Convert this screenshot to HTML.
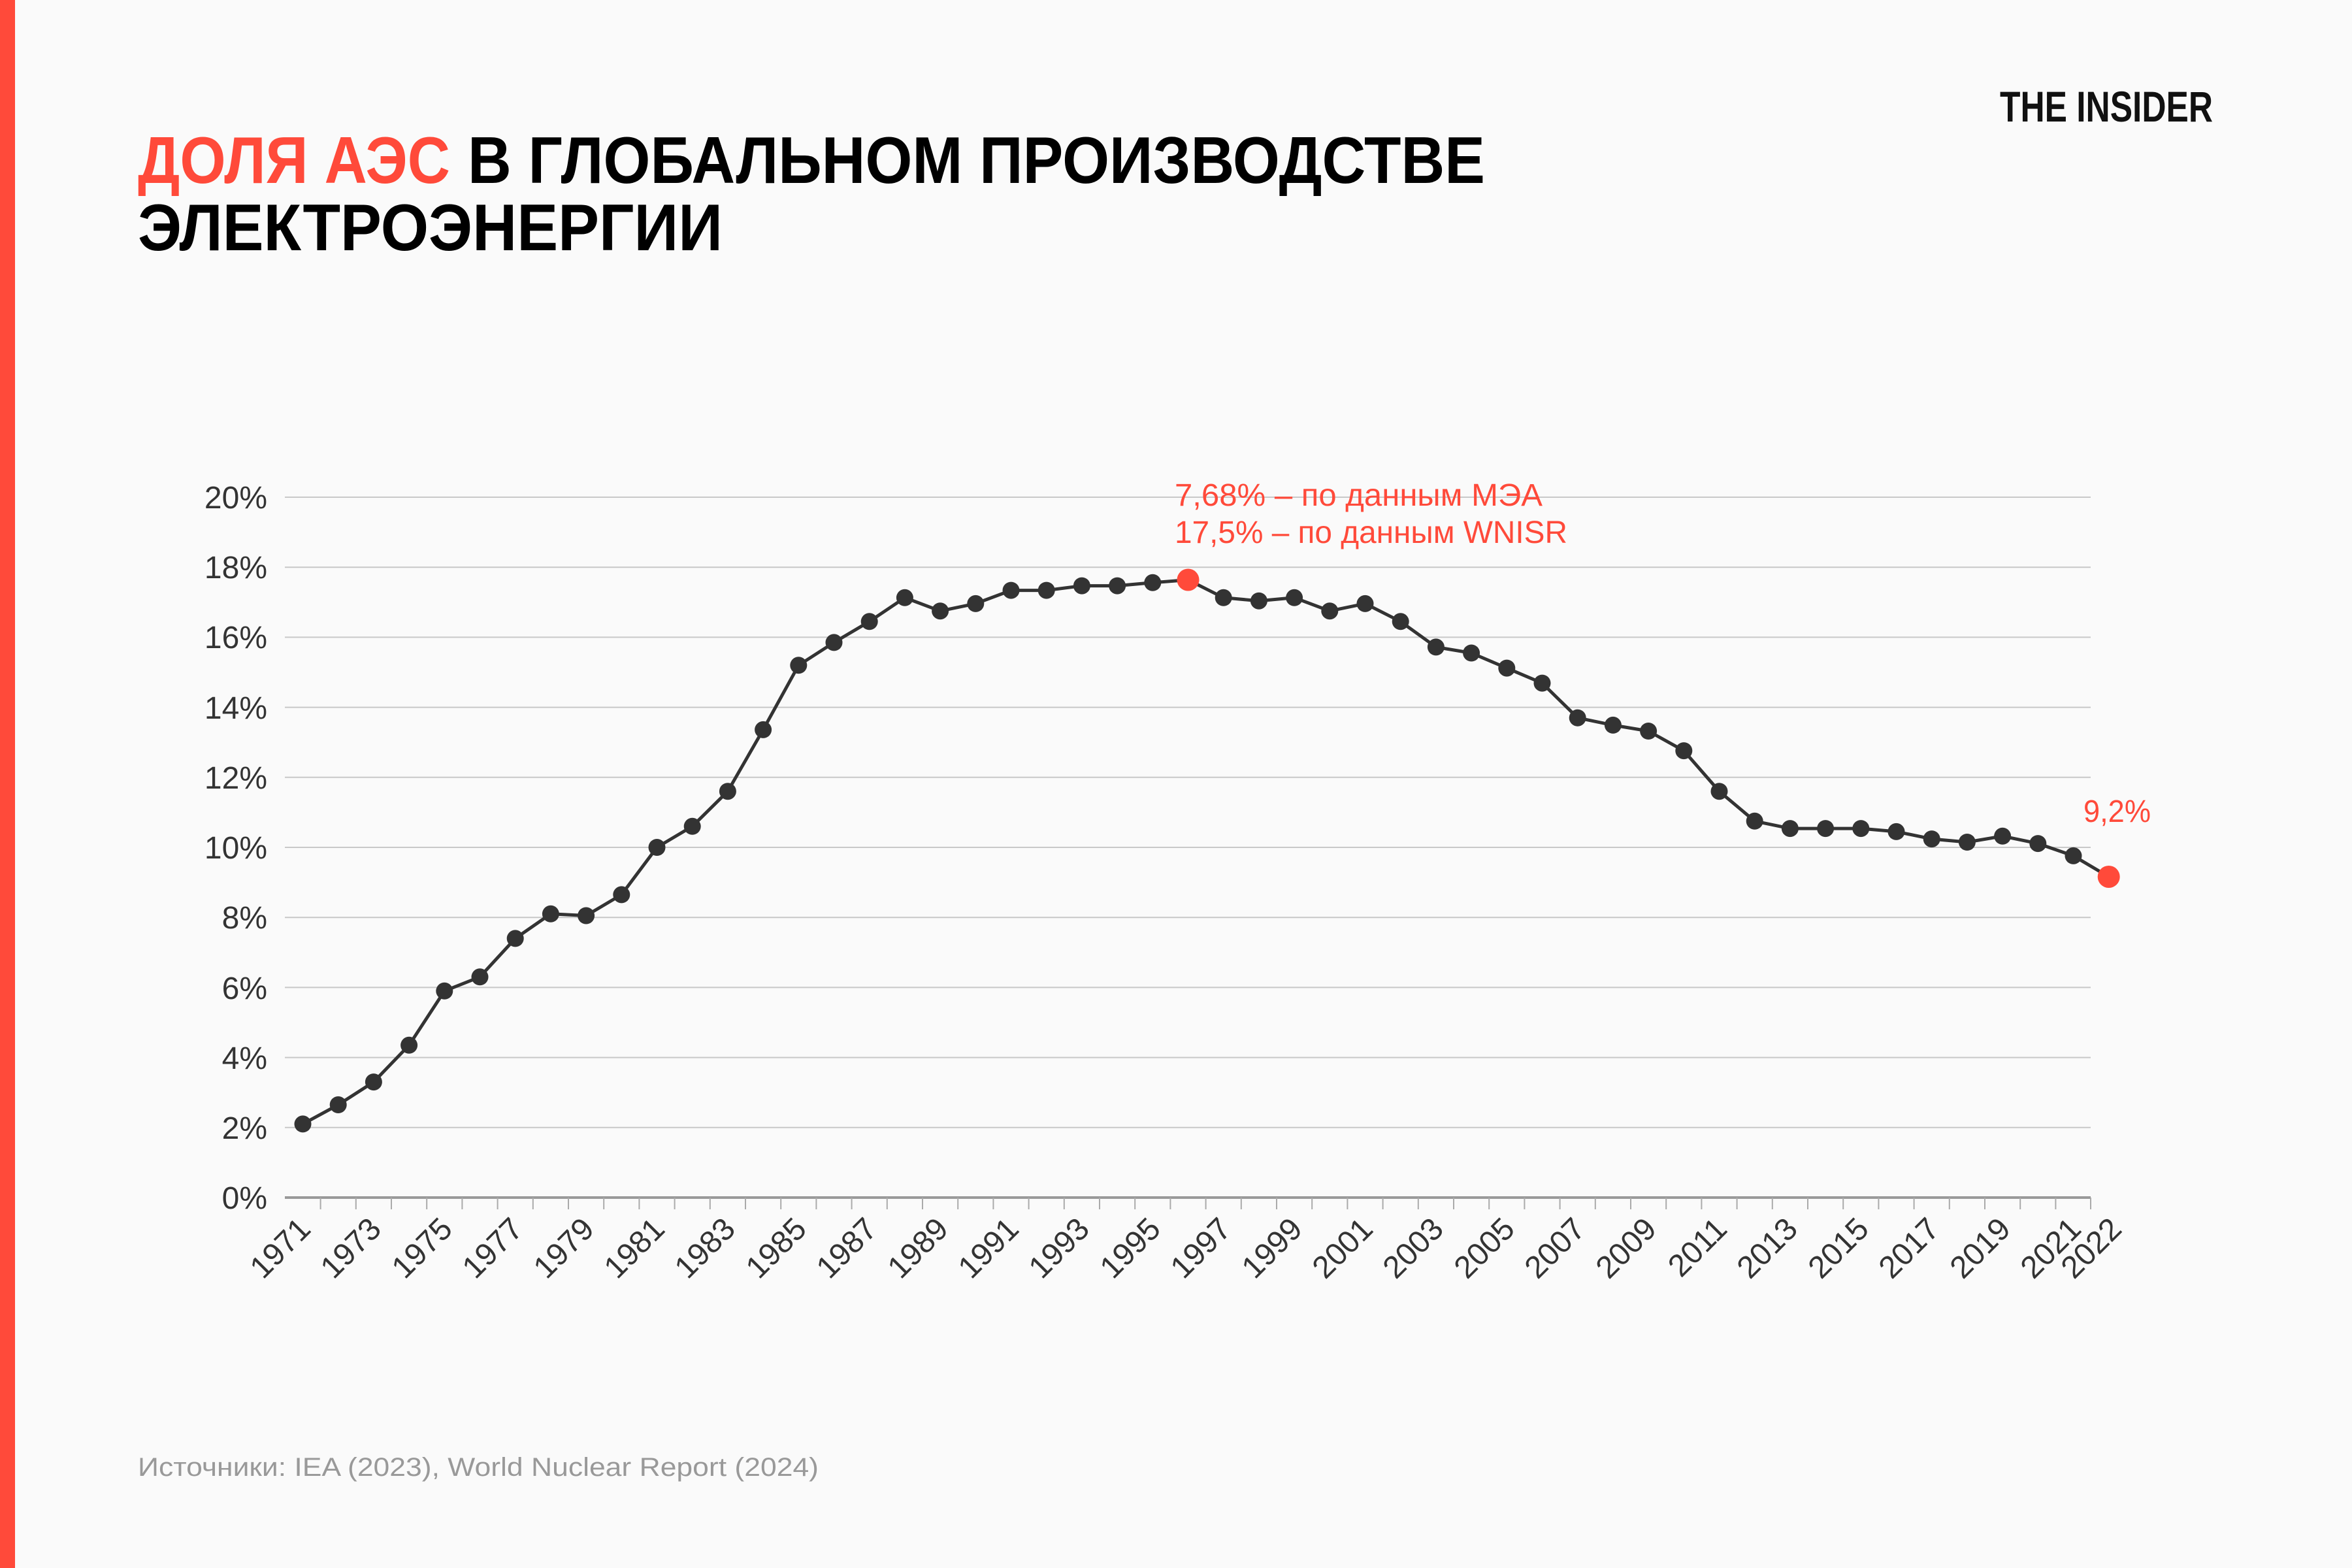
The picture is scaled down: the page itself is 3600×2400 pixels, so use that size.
<!DOCTYPE html>
<html><head><meta charset="utf-8"><style>
html,body{margin:0;padding:0;background:#fafafa;}
svg{display:block;}
</style></head><body>
<svg width="3600" height="2400" viewBox="0 0 3600 2400" xmlns="http://www.w3.org/2000/svg" font-family="'Liberation Sans', sans-serif">
<rect width="3600" height="2400" fill="#fafafa"/>
<rect x="0" y="0" width="23" height="2400" fill="#ff4a3a"/>
<text x="211" y="280" font-size="101" font-weight="bold" fill="#ff4a3a" textLength="478" lengthAdjust="spacingAndGlyphs">ДОЛЯ АЭС</text>
<text x="716" y="280" font-size="101" font-weight="bold" fill="#000" textLength="1557" lengthAdjust="spacingAndGlyphs">В ГЛОБАЛЬНОМ ПРОИЗВОДСТВЕ</text>
<text x="211" y="383" font-size="101" font-weight="bold" fill="#000" textLength="895" lengthAdjust="spacingAndGlyphs">ЭЛЕКТРОЭНЕРГИИ</text>
<text x="3061" y="186" font-size="66" font-weight="bold" fill="#111" textLength="326" lengthAdjust="spacingAndGlyphs">THE INSIDER</text>

<g stroke="#c8c8c8" stroke-width="2">
<line x1="436" x2="3200" y1="761" y2="761"/>
<line x1="436" x2="3200" y1="868.2" y2="868.2"/>
<line x1="436" x2="3200" y1="975.4" y2="975.4"/>
<line x1="436" x2="3200" y1="1082.6" y2="1082.6"/>
<line x1="436" x2="3200" y1="1189.8" y2="1189.8"/>
<line x1="436" x2="3200" y1="1297" y2="1297"/>
<line x1="436" x2="3200" y1="1404.2" y2="1404.2"/>
<line x1="436" x2="3200" y1="1511.4" y2="1511.4"/>
<line x1="436" x2="3200" y1="1618.6" y2="1618.6"/>
<line x1="436" x2="3200" y1="1725.8" y2="1725.8"/>
</g>
<line x1="436" x2="3200" y1="1833" y2="1833" stroke="#999" stroke-width="4"/>
<g stroke="#aaa" stroke-width="2">
<line x1="490.6" x2="490.6" y1="1833" y2="1851"/><line x1="544.8" x2="544.8" y1="1833" y2="1851"/><line x1="599" x2="599" y1="1833" y2="1851"/><line x1="653.2" x2="653.2" y1="1833" y2="1851"/><line x1="707.4" x2="707.4" y1="1833" y2="1851"/><line x1="761.6" x2="761.6" y1="1833" y2="1851"/><line x1="815.8" x2="815.8" y1="1833" y2="1851"/><line x1="870" x2="870" y1="1833" y2="1851"/><line x1="924.2" x2="924.2" y1="1833" y2="1851"/><line x1="978.4" x2="978.4" y1="1833" y2="1851"/><line x1="1032.6" x2="1032.6" y1="1833" y2="1851"/><line x1="1086.8" x2="1086.8" y1="1833" y2="1851"/><line x1="1141" x2="1141" y1="1833" y2="1851"/><line x1="1195.2" x2="1195.2" y1="1833" y2="1851"/><line x1="1249.4" x2="1249.4" y1="1833" y2="1851"/><line x1="1303.6" x2="1303.6" y1="1833" y2="1851"/><line x1="1357.8" x2="1357.8" y1="1833" y2="1851"/><line x1="1412" x2="1412" y1="1833" y2="1851"/><line x1="1466.2" x2="1466.2" y1="1833" y2="1851"/><line x1="1520.4" x2="1520.4" y1="1833" y2="1851"/><line x1="1574.6" x2="1574.6" y1="1833" y2="1851"/><line x1="1628.8" x2="1628.8" y1="1833" y2="1851"/><line x1="1683" x2="1683" y1="1833" y2="1851"/><line x1="1737.2" x2="1737.2" y1="1833" y2="1851"/><line x1="1791.4" x2="1791.4" y1="1833" y2="1851"/><line x1="1845.6" x2="1845.6" y1="1833" y2="1851"/><line x1="1899.8" x2="1899.8" y1="1833" y2="1851"/><line x1="1954" x2="1954" y1="1833" y2="1851"/><line x1="2008.2" x2="2008.2" y1="1833" y2="1851"/><line x1="2062.4" x2="2062.4" y1="1833" y2="1851"/><line x1="2116.6" x2="2116.6" y1="1833" y2="1851"/><line x1="2170.8" x2="2170.8" y1="1833" y2="1851"/><line x1="2225" x2="2225" y1="1833" y2="1851"/><line x1="2279.2" x2="2279.2" y1="1833" y2="1851"/><line x1="2333.4" x2="2333.4" y1="1833" y2="1851"/><line x1="2387.6" x2="2387.6" y1="1833" y2="1851"/><line x1="2441.8" x2="2441.8" y1="1833" y2="1851"/><line x1="2496" x2="2496" y1="1833" y2="1851"/><line x1="2550.2" x2="2550.2" y1="1833" y2="1851"/><line x1="2604.4" x2="2604.4" y1="1833" y2="1851"/><line x1="2658.6" x2="2658.6" y1="1833" y2="1851"/><line x1="2712.8" x2="2712.8" y1="1833" y2="1851"/><line x1="2767" x2="2767" y1="1833" y2="1851"/><line x1="2821.2" x2="2821.2" y1="1833" y2="1851"/><line x1="2875.4" x2="2875.4" y1="1833" y2="1851"/><line x1="2929.6" x2="2929.6" y1="1833" y2="1851"/><line x1="2983.8" x2="2983.8" y1="1833" y2="1851"/><line x1="3038" x2="3038" y1="1833" y2="1851"/><line x1="3092.2" x2="3092.2" y1="1833" y2="1851"/><line x1="3146.4" x2="3146.4" y1="1833" y2="1851"/><line x1="3200" x2="3200" y1="1833" y2="1851"/>
</g>

<g font-size="48" fill="#333" text-anchor="end">
<text x="409" y="778">20%</text>
<text x="409" y="885">18%</text>
<text x="409" y="992">16%</text>
<text x="409" y="1100">14%</text>
<text x="409" y="1207">12%</text>
<text x="409" y="1314">10%</text>
<text x="409" y="1421">8%</text>
<text x="409" y="1529">6%</text>
<text x="409" y="1636">4%</text>
<text x="409" y="1743">2%</text>
<text x="409" y="1850">0%</text>
</g>

<g font-size="48" fill="#333" text-anchor="end">
<text transform="translate(478,1884) rotate(-45)">1971</text>
<text transform="translate(586,1884) rotate(-45)">1973</text>
<text transform="translate(695,1884) rotate(-45)">1975</text>
<text transform="translate(803,1884) rotate(-45)">1977</text>
<text transform="translate(912,1884) rotate(-45)">1979</text>
<text transform="translate(1020,1884) rotate(-45)">1981</text>
<text transform="translate(1128,1884) rotate(-45)">1983</text>
<text transform="translate(1237,1884) rotate(-45)">1985</text>
<text transform="translate(1345,1884) rotate(-45)">1987</text>
<text transform="translate(1454,1884) rotate(-45)">1989</text>
<text transform="translate(1562,1884) rotate(-45)">1991</text>
<text transform="translate(1670,1884) rotate(-45)">1993</text>
<text transform="translate(1779,1884) rotate(-45)">1995</text>
<text transform="translate(1887,1884) rotate(-45)">1997</text>
<text transform="translate(1996,1884) rotate(-45)">1999</text>
<text transform="translate(2104,1884) rotate(-45)">2001</text>
<text transform="translate(2212,1884) rotate(-45)">2003</text>
<text transform="translate(2321,1884) rotate(-45)">2005</text>
<text transform="translate(2429,1884) rotate(-45)">2007</text>
<text transform="translate(2538,1884) rotate(-45)">2009</text>
<text transform="translate(2646,1884) rotate(-45)">2011</text>
<text transform="translate(2754,1884) rotate(-45)">2013</text>
<text transform="translate(2863,1884) rotate(-45)">2015</text>
<text transform="translate(2971,1884) rotate(-45)">2017</text>
<text transform="translate(3080,1884) rotate(-45)">2019</text>
<text transform="translate(3188,1884) rotate(-45)">2021</text>
<text transform="translate(3250,1884) rotate(-45)">2022</text>
</g>

<polyline fill="none" stroke="#333" stroke-width="5" stroke-linejoin="round" points="463.5,1720.4 517.7,1691 571.9,1656.1 626.1,1599.8 680.3,1516.8 734.5,1495.3 788.7,1436.4 842.9,1398.8 897.1,1401.5 951.3,1369.4 1005.5,1297 1059.7,1264.8 1113.9,1211.2 1168.1,1116.9 1222.3,1018.3 1276.5,983.4 1330.7,951.3 1384.9,914.8 1439.1,935.2 1493.3,923.9 1547.5,903.6 1601.7,903.6 1655.9,896.6 1710.1,896.6 1764.3,891.8 1818.5,887.5 1872.7,914.8 1926.9,919.7 1981.1,914.8 2035.3,935.2 2089.5,923.9 2143.7,951.3 2197.9,990.4 2252.1,999.5 2306.3,1022.6 2360.5,1045.6 2414.7,1098.7 2468.9,1109.9 2523.1,1119 2577.3,1149.1 2631.5,1211.2 2685.7,1256.8 2739.9,1268.1 2794.1,1268.1 2848.3,1268.1 2902.5,1272.9 2956.7,1284.1 3010.9,1289 3065.1,1279.8 3119.3,1291.1 3173.5,1309.9 3227.7,1342"/>

<g fill="#333">
<circle cx="463.5" cy="1720.4" r="13"/><circle cx="517.7" cy="1691" r="13"/><circle cx="571.9" cy="1656.1" r="13"/><circle cx="626.1" cy="1599.8" r="13"/><circle cx="680.3" cy="1516.8" r="13"/><circle cx="734.5" cy="1495.3" r="13"/><circle cx="788.7" cy="1436.4" r="13"/><circle cx="842.9" cy="1398.8" r="13"/><circle cx="897.1" cy="1401.5" r="13"/><circle cx="951.3" cy="1369.4" r="13"/><circle cx="1005.5" cy="1297" r="13"/><circle cx="1059.7" cy="1264.8" r="13"/><circle cx="1113.9" cy="1211.2" r="13"/><circle cx="1168.1" cy="1116.9" r="13"/><circle cx="1222.3" cy="1018.3" r="13"/><circle cx="1276.5" cy="983.4" r="13"/><circle cx="1330.7" cy="951.3" r="13"/><circle cx="1384.9" cy="914.8" r="13"/><circle cx="1439.1" cy="935.2" r="13"/><circle cx="1493.3" cy="923.9" r="13"/><circle cx="1547.5" cy="903.6" r="13"/><circle cx="1601.7" cy="903.6" r="13"/><circle cx="1655.9" cy="896.6" r="13"/><circle cx="1710.1" cy="896.6" r="13"/><circle cx="1764.3" cy="891.8" r="13"/><circle cx="1872.7" cy="914.8" r="13"/><circle cx="1926.9" cy="919.7" r="13"/><circle cx="1981.1" cy="914.8" r="13"/><circle cx="2035.3" cy="935.2" r="13"/><circle cx="2089.5" cy="923.9" r="13"/><circle cx="2143.7" cy="951.3" r="13"/><circle cx="2197.9" cy="990.4" r="13"/><circle cx="2252.1" cy="999.5" r="13"/><circle cx="2306.3" cy="1022.6" r="13"/><circle cx="2360.5" cy="1045.6" r="13"/><circle cx="2414.7" cy="1098.7" r="13"/><circle cx="2468.9" cy="1109.9" r="13"/><circle cx="2523.1" cy="1119" r="13"/><circle cx="2577.3" cy="1149.1" r="13"/><circle cx="2631.5" cy="1211.2" r="13"/><circle cx="2685.7" cy="1256.8" r="13"/><circle cx="2739.9" cy="1268.1" r="13"/><circle cx="2794.1" cy="1268.1" r="13"/><circle cx="2848.3" cy="1268.1" r="13"/><circle cx="2902.5" cy="1272.9" r="13"/><circle cx="2956.7" cy="1284.1" r="13"/><circle cx="3010.9" cy="1289" r="13"/><circle cx="3065.1" cy="1279.8" r="13"/><circle cx="3119.3" cy="1291.1" r="13"/><circle cx="3173.5" cy="1309.9" r="13"/>
</g>
<circle cx="1818.5" cy="887.5" r="17" fill="#ff4a3a"/>
<circle cx="3227.7" cy="1342" r="17" fill="#ff4a3a"/>

<g font-size="48" fill="#ff4a3a">
<text x="1798" y="774" textLength="563" lengthAdjust="spacingAndGlyphs">7,68% – по данным МЭА</text>
<text x="1798" y="831" textLength="601" lengthAdjust="spacingAndGlyphs">17,5% – по данным WNISR</text>
<text x="3189" y="1258" textLength="103" lengthAdjust="spacingAndGlyphs">9,2%</text>
</g>

<text x="211" y="2259" font-size="40" fill="#999" textLength="1042" lengthAdjust="spacingAndGlyphs">Источники: IEA (2023), World Nuclear Report (2024)</text>
</svg>
</body></html>
